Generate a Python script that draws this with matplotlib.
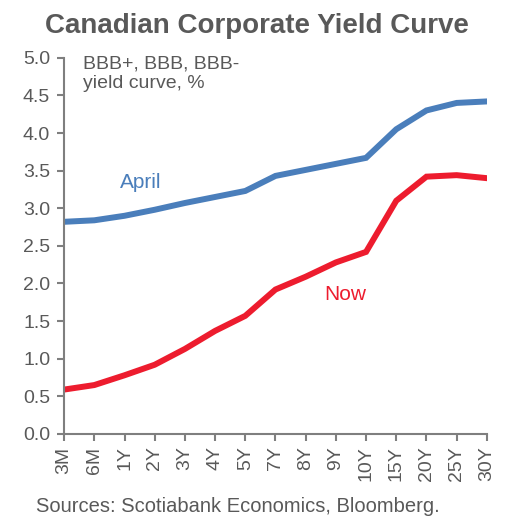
import matplotlib
matplotlib.use("Agg")
import matplotlib.pyplot as plt

plt.rcParams["font.family"] = ["Liberation Sans", "DejaVu Sans"]

tenors = ["3M", "6M", "1Y", "2Y", "3Y", "4Y", "5Y", "7Y", "8Y", "9Y",
          "10Y", "15Y", "20Y", "25Y", "30Y"]
april = [2.82, 2.84, 2.90, 2.98, 3.07, 3.15, 3.23, 3.43, 3.51, 3.59,
         3.67, 4.05, 4.30, 4.40, 4.42]
now = [0.59, 0.65, 0.78, 0.92, 1.13, 1.37, 1.57, 1.92, 2.09, 2.28,
       2.42, 3.10, 3.42, 3.44, 3.40]

BLUE = "#4A7EBB"
RED = "#ED1C2E"
GREY = "#595959"

fig = plt.figure(figsize=(5.13, 5.16), dpi=100)
ax = fig.add_axes([0.125, 0.159, 0.824, 0.729])

x = range(len(tenors))
ax.plot(x, april, color=BLUE, lw=4.3, solid_joinstyle="miter")
ax.plot(x, now, color=RED, lw=4.3, solid_joinstyle="miter")

ax.set_xlim(0, len(tenors) - 1)
ax.set_ylim(0, 5)
ax.set_yticks([i * 0.5 for i in range(11)])
ax.set_yticklabels([f"{i * 0.5:.1f}" for i in range(11)])
ax.set_xticks(list(x))
ax.set_xticklabels(tenors, rotation=90)

for side in ("top", "right"):
    ax.spines[side].set_visible(False)
for side in ("left", "bottom"):
    ax.spines[side].set_color("#7F7F7F")
    ax.spines[side].set_linewidth(1.5)
ax.tick_params(axis="both", colors="#7F7F7F", width=1.5, length=5,
               labelcolor=GREY, labelsize=14)
ax.tick_params(axis="y", pad=5)
ax.tick_params(axis="x", pad=4)

ax.text(0.045, 1.005, "BBB+, BBB, BBB-\nyield curve, %", transform=ax.transAxes,
        ha="left", va="top", fontsize=14, color=GREY, linespacing=1.15)
ax.text(2.54, 3.34, "April", color=BLUE, fontsize=15, ha="center", va="center")
ax.text(9.3, 1.85, "Now", color=RED, fontsize=15, ha="center", va="center")

fig.text(0.5, 0.95, "Canadian Corporate Yield Curve", ha="center", va="center",
         fontsize=20, fontweight="bold", color=GREY)
fig.text(0.07, 0.019, "Sources: Scotiabank Economics, Bloomberg.", ha="left",
         va="center", fontsize=14.5, color=GREY)

fig.savefig("out.png", dpi=100)
